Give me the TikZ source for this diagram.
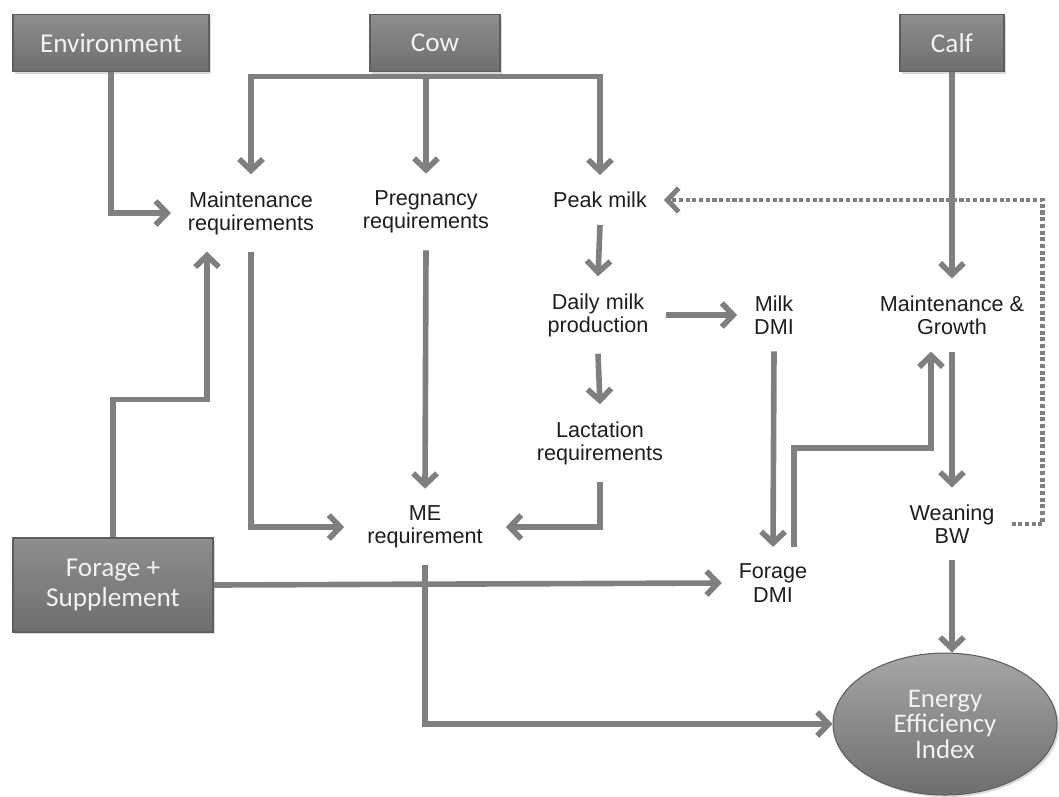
\documentclass[tikz,border=0pt]{standalone}
\usepackage{fontspec}
\setmainfont{Liberation Sans}
\newfontfamily\boxfont{Carlito}
\usepackage{tikz}
\usetikzlibrary{arrows.meta,shadows,shapes.geometric}
\definecolor{g1}{HTML}{1E1E1E}
\definecolor{g3}{HTML}{5E5E5E}
\definecolor{g4}{HTML}{7F7F7F}
\definecolor{g5}{HTML}{8E8E8E}
\definecolor{g6}{HTML}{A6A6A6}
\definecolor{g7}{HTML}{6E6E6E}
\definecolor{g8}{HTML}{F2F2F2}

\begin{document}
\begin{tikzpicture}[x=0.02cm,y=-0.02cm,
  box/.style={draw=g3,line width=0.6pt,top color=g5,bottom color=g7,text=g8,
    font=\boxfont\fontsize{15.5}{17}\selectfont,align=center,inner sep=0pt,
    drop shadow={shadow xshift=1.2pt,shadow yshift=-1.2pt,opacity=0.3}},
  lbl/.style={text=g1,font=\fontsize{12.3}{13.2}\selectfont,align=center,inner sep=9.5pt},
  flow/.style={g4,line width=3.2pt,-{Straight Barb[length=6.5pt,width=13.5pt]}},
  fb/.style={g4,line width=2.8pt,dash pattern=on 2.3pt off 1.5pt,
    -{Straight Barb[length=6.5pt,width=13.5pt]}}]
\useasboundingbox (0,0) rectangle (1059,796);

\node[box,minimum width=3.92cm,minimum height=1.14cm] (env) at (111,43) {Environment};
\node[box,minimum width=2.6cm,minimum height=1.14cm] (cow) at (435,43) {Cow};
\node[box,minimum width=2.08cm,minimum height=1.14cm] (calf) at (952,43) {Calf};
\node[box,minimum width=4cm,minimum height=1.88cm] (fs) at (113,585) {Forage +\\Supplement};
\node[box,ellipse,top color=g6,bottom color=g7,minimum width=4.48cm,minimum height=2.84cm,
  font=\boxfont\fontsize{15.3}{14.5}\selectfont] (eei) at (945,724) {Energy\\Efficiency\\Index};

\node[lbl] (mreq) at (251,213) {Maintenance\\requirements};
\node[lbl] (preg) at (426,212) {Pregnancy\\requirements};
\node[lbl] (peak) at (600,200) {Peak milk};
\node[lbl] (dmp) at (598,315) {Daily milk\\production};
\node[lbl] (mdmi) at (774,315) {Milk\\DMI};
\node[lbl] (mg) at (952,315) {Maintenance \&\\Growth};
\node[lbl] (lact) at (600,443) {Lactation\\requirements};
\node[lbl,inner xsep=13pt] (me) at (425,527) {ME\\requirement};
\node[lbl] (wbw) at (952,524) {Weaning\\BW};
\node[lbl] (fdmi) at (773,583) {Forage\\DMI};

\coordinate (bus) at ([yshift=-2.5pt]cow.south);
\draw[flow] (env.south) |- (mreq.west);
\draw[flow] (bus) -| (mreq.north);
\draw[flow] (bus) -| (preg.north);
\draw[flow] (bus) -| (peak.north);
\draw[flow] (calf.south) -- (mg.north);
\draw[flow] (peak.south) -- (dmp.north);
\draw[flow] (dmp.east) -- (mdmi.west);
\draw[flow] (dmp.south) -- (lact.north);
\draw[flow] (mreq.south) |- (me.west);
\draw[flow] (preg.south) -- (me.north);
\draw[flow] (lact.south) |- (me.east);
\draw[flow] (mdmi.south) -- (fdmi.north);
\draw[flow] ([xshift=0.42cm]fdmi.north) -- ++(0,-99) -| ([xshift=-0.42cm]mg.south);
\draw[flow] (mg.south) -- (wbw.north);
\draw[flow] (wbw.south) -- (wbw.south |- eei.north);
\draw[flow] (fs.east) -- (fdmi.west);
\draw[flow] (fs.north) -- ++(0,-138) -| ([xshift=-0.88cm]mreq.south);
\draw[flow] (me.south) |- (eei.west);
\draw[fb] (wbw.east) -- ++(31,0) |- (peak.east);
\end{tikzpicture}
\end{document}
